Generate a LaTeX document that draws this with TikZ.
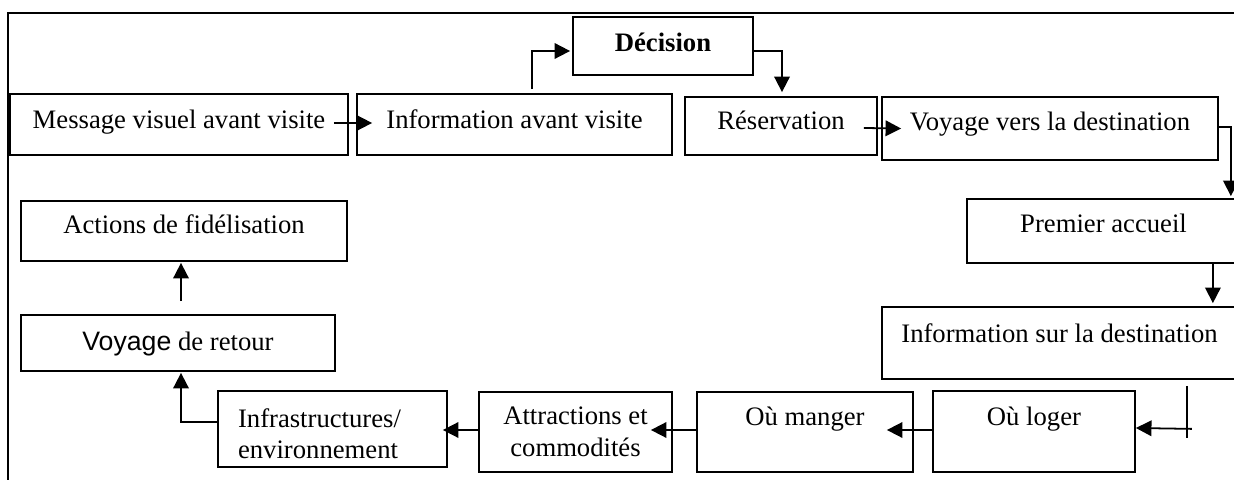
\documentclass[tikz,border=0pt]{standalone}
\usepackage{fontspec}
\setmainfont{Liberation Serif}
\newfontfamily\arialfont{Liberation Sans}
\usetikzlibrary{arrows.meta,calc}

\begin{document}
\begin{tikzpicture}[x=0.45pt, y=-0.45pt,
    box/.style={draw, line width=0.8pt, inner sep=0pt, text height=9pt, align=center,
      font=\fontsize{12pt}{14pt}\selectfont},
    link/.style={line width=0.8pt, -{Triangle[length=7pt,width=7pt]}}]
    \useasboundingbox (0,0) rectangle (1234,480);

    % outer frame, only top and left edges show
    \draw[line width=0.8pt] (8,480) -- (8,13) -- (1240,13);

    % before the visit
    \node[box, minimum width=338*0.45pt, minimum height=61*0.45pt, text depth=4.95pt] (msg) at (179,124.5) {Message visuel avant visite};
    \node[box, minimum width=315*0.45pt, minimum height=61*0.45pt, text depth=5.4pt] (infoav) at (514.5,124.5) {Information avant visite};
    \node[box, minimum width=180*0.45pt, minimum height=58*0.45pt, text depth=3.6pt] (dec) at (663,46) {\textbf{Décision}};
    \node[box, minimum width=192*0.45pt, minimum height=58*0.45pt, text depth=5.4pt] (resa) at (781,126) {Réservation};
    \node[box, minimum width=336*0.45pt, minimum height=63*0.45pt, text depth=6.75pt] (voyvers) at (1050,128.5) {Voyage vers la destination};

    % on site (right boxes run off the page)
    \node[box, minimum width=273*0.45pt, minimum height=64*0.45pt, text depth=7.2pt] (accueil) at (1103.5,231) {Premier accueil};
    \node[box, minimum width=355*0.45pt, minimum height=72*0.45pt, text depth=9.9pt] (infodest) at (1059.5,343) {Information sur la destination};
    \node[box, minimum width=202*0.45pt, minimum height=81*0.45pt, text depth=14.85pt] (loger) at (1034,431.5) {Où loger};
    \node[box, minimum width=216*0.45pt, minimum height=80*0.45pt, text depth=15.3pt] (manger) at (805,432) {Où manger};
    \node[box, minimum width=193*0.45pt, minimum height=80*0.45pt, text height=24pt, text depth=2.4pt] (attr) at (575.5,432) {Attractions et\\commodités};
    \node[box, minimum width=229*0.45pt, minimum height=76*0.45pt, text depth=10.8pt, text width=85pt, align=left] (infra) at (332.5,429) {Infrastructures/\\environnement};

    % after the visit
    \node[box, minimum width=314*0.45pt, minimum height=56*0.45pt, text depth=2.7pt] (retour) at (178,343) {{\arialfont Voyage} de retour};
    \node[box, minimum width=326*0.45pt, minimum height=60*0.45pt, text depth=6.3pt] (fidel) at (184,231) {Actions de fidélisation};

    % links
    \draw[link] ($(msg.east)+(-15,-1.5)$) -- ($(infoav.west)+(16,-1.5)$);
    \draw[link] ($(infoav.north)+(17.5,-4)$) |- ($(dec.west)+(-2,5)$);
    \draw[link] ($(dec.east)+(0,5)$) -| ($(resa.north)+(1,-4)$);
    \draw[link] ($(resa.east)+(-14,2)$) -- ($(voyvers.west)+(20,0)$);
    \draw[link] ($(voyvers.east)+(0,-1.5)$) -| ($(accueil.north east)+(-10,-2)$);
    \draw[link] ($(accueil.south east)+(-28,0)$) -- ($(infodest.north east)+(-25,-3)$);

    \coordinate (turn) at ($(infodest.south east)+(-51,49)$);
    \draw[line width=0.8pt] ($(turn)+(0,-43)$) -- ($(turn)+(0,9)$);
    \draw[link] ($(turn)+(5,0)$) -- ($(loger.east)+(0,-3.5)$);
    \draw[link] ($(loger.west)+(0,-1.5)$) -- ($(manger.east)+(-27,-2)$);
    \draw[link] ($(manger.west)+(0,-2)$) -- ($(attr.east)+(-22,-2)$);
    \draw[link] ($(attr.west)+(0,-2)$) -- ($(infra.east)+(-5,1)$);
    \draw[link] ($(infra.west)+(0,-7)$) -| ($(retour.south)+(3,1)$);
    \draw[link] ($(retour.north)+(3,-13)$) -- ($(fidel.south)+(-3,1)$);
\end{tikzpicture}
\end{document}
